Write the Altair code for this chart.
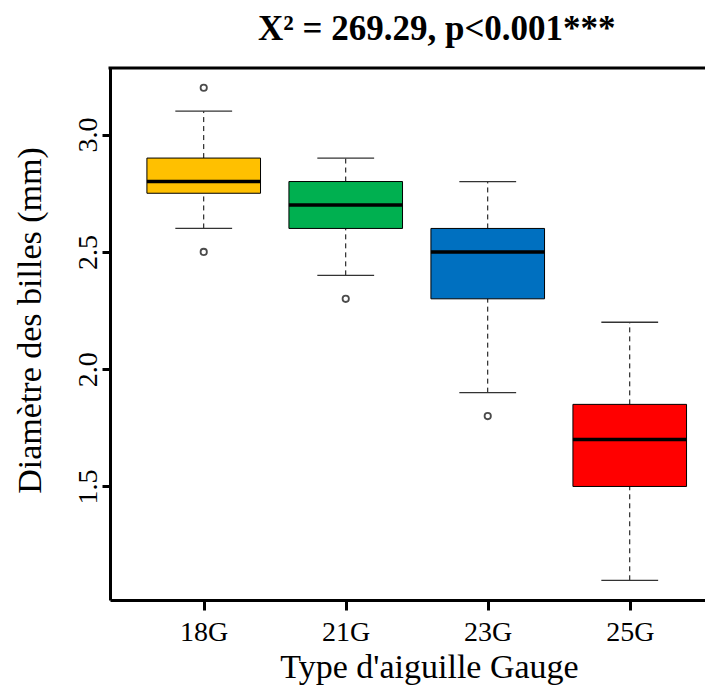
import altair as alt
import pandas as pd

gauges = ["18G", "21G", "23G", "25G"]
lower_whisker = [2.6, 2.4, 1.9, 1.1]
q1 = [2.75, 2.6, 2.3, 1.5]
median = [2.8, 2.7, 2.5, 1.7]
q3 = [2.9, 2.8, 2.6, 1.85]
upper_whisker = [3.1, 2.9, 2.8, 2.2]
outlier_gauge = ["18G", "18G", "21G", "23G"]
outlier_value = [3.2, 2.5, 2.3, 1.8]
colors = ["#FFC000", "#00B050", "#0070C0", "#FF0000"]
y_ticks = [1.5, 2.0, 2.5, 3.0]

title_text = "X\u00b2 = 269.29, p<0.001***"
x_title = "Type d'aiguille Gauge"
y_title = "Diamètre des billes (mm)"

FONT = "Liberation Serif"
Y_DOMAIN = [1.016, 3.284]
X_DOMAIN = [0.34, 4.53]

boxes = pd.DataFrame({
    "gauge": gauges,
    "pos": list(range(1, len(gauges) + 1)),
    "lo": lower_whisker,
    "q1": q1,
    "med": median,
    "q3": q3,
    "hi": upper_whisker,
})
outl = pd.DataFrame({
    "gauge": outlier_gauge,
    "pos": [gauges.index(g) + 1 for g in outlier_gauge],
    "val": outlier_value,
})

label_expr = "[" + ",".join("'%s'" % g for g in gauges) + "][datum.value - 1]"

xscale = alt.Scale(domain=X_DOMAIN, nice=False, zero=False)
yscale = alt.Scale(domain=Y_DOMAIN, nice=False, zero=False)

x_axis = alt.Axis(
    values=[1, 2, 3, 4], labelExpr=label_expr, title=x_title, grid=False,
    domainColor="black", domainWidth=3, tickColor="black", tickWidth=3, tickSize=10,
    labelFont=FONT, labelFontSize=28, labelColor="black", labelPadding=8,
    titleFont=FONT, titleFontSize=34, titleFontWeight="normal", titleColor="black",
    titleX=319, titleY=77, titleBaseline="alphabetic", titleAlign="center",
)
y_axis = alt.Axis(
    values=y_ticks, format=".1f", title=y_title, grid=False,
    domainColor="black", domainWidth=3, tickColor="black", tickWidth=3, tickSize=8,
    labelFont=FONT, labelFontSize=28, labelColor="black", labelAngle=270,
    labelAlign="center", labelBaseline="alphabetic", labelPadding=6,
    titleFont=FONT, titleFontSize=34, titleFontWeight="normal", titleColor="black",
    titleAngle=270, titleX=-70, titleY=252, titleAlign="center", titleBaseline="alphabetic",
)

base = alt.Chart(boxes)

color = alt.Color("gauge:N", scale=alt.Scale(domain=gauges, range=colors), legend=None)

whisk_up = base.mark_rule(color="black", strokeWidth=1, strokeDash=[5, 4]).encode(
    x=alt.X("pos:Q", scale=xscale, axis=x_axis), y=alt.Y("q3:Q", scale=yscale, axis=y_axis), y2="hi:Q"
)
whisk_lo = base.mark_rule(color="black", strokeWidth=1, strokeDash=[5, 4]).encode(
    x="pos:Q", y="lo:Q", y2="q1:Q"
)
staple_hi = base.transform_calculate(a="datum.pos - 0.2", b="datum.pos + 0.2").mark_rule(
    color="#333333", strokeWidth=1.3).encode(x="a:Q", x2="b:Q", y="hi:Q")
staple_lo = base.transform_calculate(a="datum.pos - 0.2", b="datum.pos + 0.2").mark_rule(
    color="#333333", strokeWidth=1.3).encode(x="a:Q", x2="b:Q", y="lo:Q")
box = base.transform_calculate(a="datum.pos - 0.4", b="datum.pos + 0.4").mark_rect(
    stroke="black", strokeWidth=1).encode(x="a:Q", x2="b:Q", y="q1:Q", y2="q3:Q", color=color)
med = base.transform_calculate(a="datum.pos - 0.4", b="datum.pos + 0.4").mark_rule(
    color="black", strokeWidth=3.5).encode(x="a:Q", x2="b:Q", y="med:Q")
pts = alt.Chart(outl).mark_point(shape="circle", filled=False, color="black", size=40, strokeWidth=1.8).encode(
    x="pos:Q", y="val:Q"
)
top_line = alt.Chart(pd.DataFrame({"v": [Y_DOMAIN[1]]})).mark_rule(color="black", strokeWidth=3).encode(
    x=alt.value(-1.5), x2=alt.value(595), y="v:Q"
)

chart = alt.layer(whisk_up, whisk_lo, staple_hi, staple_lo, box, med, pts, top_line).properties(
    width=595, height=532,
    title=alt.TitleParams(title_text, font=FONT, fontSize=35, fontWeight="bold", color="black",
                          anchor="start", frame="group", dx=148, dy=38, baseline="alphabetic", offset=30),
    autosize=alt.AutoSizeParams(type="none"),
    padding={"left": 102, "top": 60, "right": 0, "bottom": 85},
).configure_view(stroke=None)

chart.save("out.html", embed_options={"renderer": "svg", "actions": False})
